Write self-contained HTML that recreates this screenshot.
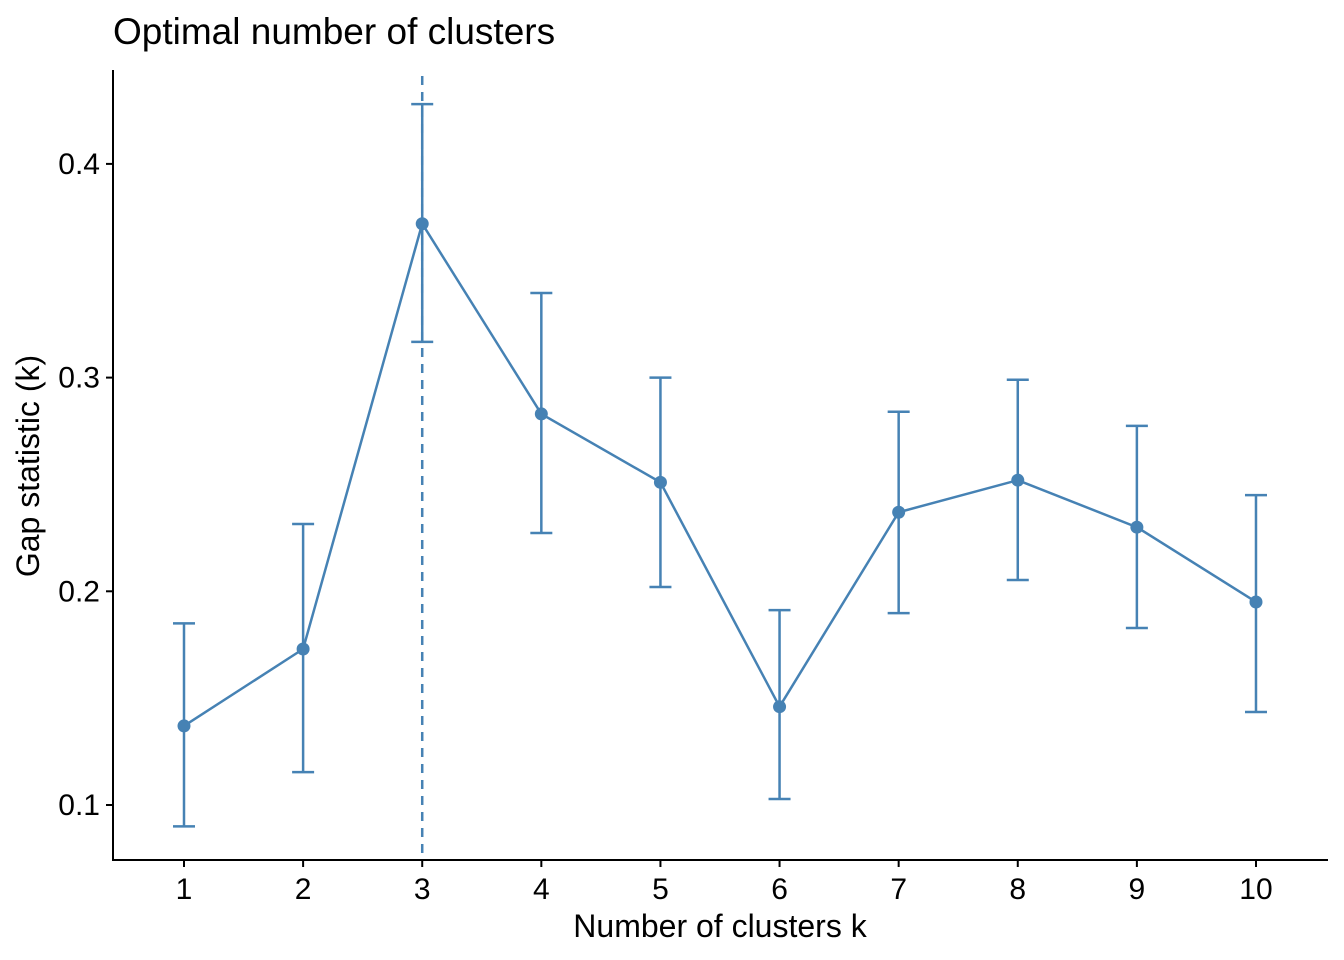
<!DOCTYPE html>
<html><head><meta charset="utf-8"><style>
body{margin:0;background:#fff}
svg{display:block;font-family:"Liberation Sans",sans-serif}
</style></head><body>
<svg id="chart" width="1344" height="960">
<text x="113" y="44" font-size="37" fill="#000">Optimal number of clusters</text>
<g id="plot"></g>
<text x="720" y="937" font-size="32" text-anchor="middle" fill="#000">Number of clusters k</text>
<text transform="translate(39,466) rotate(-90)" font-size="32" text-anchor="middle" fill="#000">Gap statistic (k)</text>
</svg>
<script>
const categories=[1,2,3,4,5,6,7,8,9,10];
const gapValues=[0.137,0.173,0.372,0.283,0.251,0.146,0.237,0.252,0.230,0.195];
const upperValues=[0.185,0.2315,0.428,0.3396,0.300,0.1912,0.284,0.299,0.2774,0.245];
const lowerValues=[0.090,0.1154,0.3167,0.2273,0.202,0.1028,0.1898,0.2053,0.1828,0.1435];
const yTicks=[0.1,0.2,0.3,0.4];
const optimalK=3;
const ns="http://www.w3.org/2000/svg";
const g=document.getElementById('plot');
const xs=k=>184+(k-1)*119.11;
const ys=v=>805-(v-0.1)*2137;
const col="#4682b4";
function mk(t,a){const e=document.createElementNS(ns,t);for(const k in a)e.setAttribute(k,a[k]);g.appendChild(e);return e;}
let e=mk('line',{x1:113,y1:70,x2:113,y2:861,stroke:'#000','stroke-width':2});


e=mk('line',{x1:112,y1:860,x2:1328,y2:860,stroke:'#000','stroke-width':2});


yTicks.forEach(v=>{
 e=mk('line',{x1:106,y1:ys(v),x2:113,y2:ys(v),stroke:'#000','stroke-width':2});
 
 
 e=mk('text',{x:100,y:ys(v)+10,'font-size':30,'text-anchor':'end',fill:'#000'});e.textContent=v.toFixed(1);
 
 
});
categories.forEach(k=>{
 e=mk('line',{x1:xs(k),y1:860,x2:xs(k),y2:867,stroke:'#000','stroke-width':2});
 
 
 e=mk('text',{x:xs(k),y:899,'font-size':30,'text-anchor':'middle',fill:'#000'});e.textContent=k;
 
 
});
e=mk('line',{x1:xs(optimalK),y1:76,x2:xs(optimalK),y2:860,stroke:col,'stroke-width':2.5,'stroke-dasharray':'9,7'});


categories.forEach((k,i)=>{
 const x=xs(k);
 e=mk('path',{d:`M${x-11},${ys(upperValues[i])}H${x+11}M${x},${ys(upperValues[i])}V${ys(lowerValues[i])}M${x-11},${ys(lowerValues[i])}H${x+11}`,stroke:col,'stroke-width':2.5,fill:'none'});
 
 
});
e=mk('polyline',{points:categories.map((k,i)=>xs(k)+','+ys(gapValues[i])).join(' '),stroke:col,'stroke-width':2.5,fill:'none'});


categories.forEach((k,i)=>{
 e=mk('circle',{cx:xs(k),cy:ys(gapValues[i]),r:6.5,fill:col});
 
 
});
</script>
</body></html>
